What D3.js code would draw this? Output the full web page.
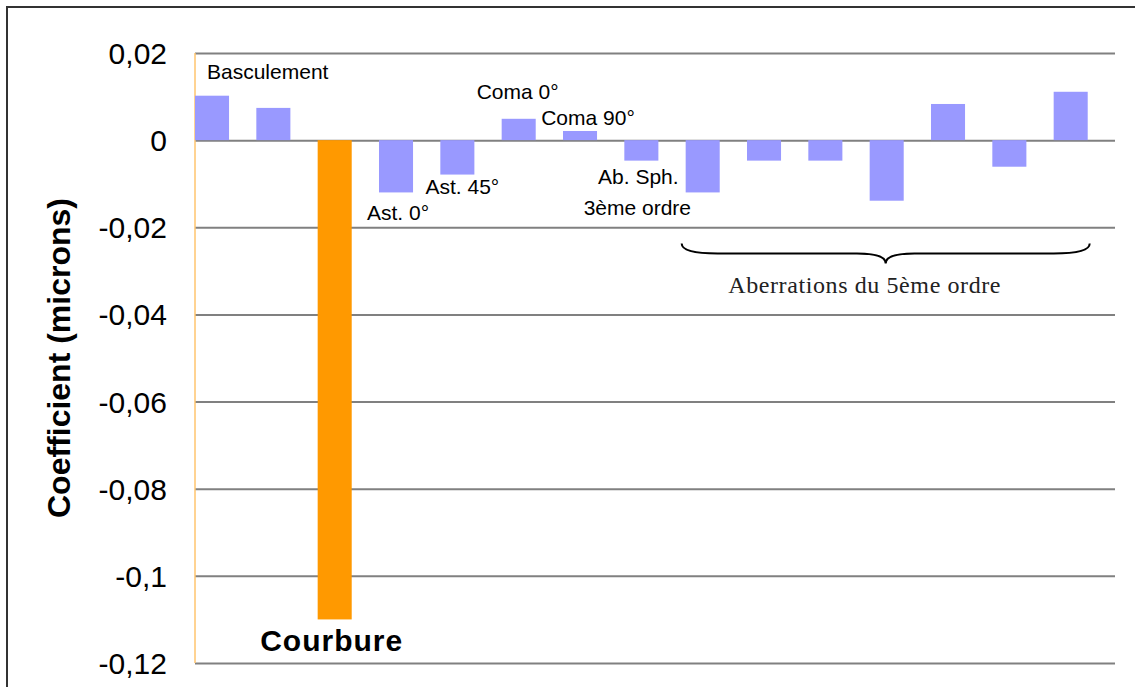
<!DOCTYPE html>
<html>
<head>
<meta charset="utf-8">
<script src="https://cdn.jsdelivr.net/npm/d3@7"></script>
<style>
  html, body { margin: 0; padding: 0; background: #fff; }
  svg { display: block; }
</style>
</head>
<body>
<svg id="chart" width="1135" height="687"></svg>
<script>
// ---- data ----
const categories = ["Basculement X", "Basculement Y", "Courbure", "Ast. 0°", "Ast. 45°",
  "Coma 0°", "Coma 90°", "Ab. Sph. 3ème ordre", "5e-1", "5e-2", "5e-3", "5e-4", "5e-5", "5e-6", "5e-7"];
const values = [0.0102, 0.0074, -0.110, -0.0120, -0.0079, 0.0049, 0.0021, -0.0047,
  -0.0120, -0.0047, -0.0047, -0.0139, 0.0083, -0.0061, 0.0111];
const highlighted = ["Courbure"];
const tickValues = [0.02, 0, -0.02, -0.04, -0.06, -0.08, -0.1, -0.12];
const tickLabels = ["0,02", "0", "-0,02", "-0,04", "-0,06", "-0,08", "-0,1", "-0,12"];
const yTitle = "Coefficient (microns)";
// annotations: category, vertical anchor (data units), horizontal offset
const annotations = [
  { text: "Basculement", cat: "Basculement X", y: 0.01407, dx: 12, anchor: "start", bold: false },
  { text: "Courbure", cat: "Courbure", y: -0.1172, dx: -3, anchor: "middle", bold: true },
  { text: "Ast. 0°", cat: "Ast. 0°", y: -0.0183, dx: 2, anchor: "middle", bold: false },
  { text: "Ast. 45°", cat: "Ast. 45°", y: -0.0123, dx: 5, anchor: "middle", bold: false },
  { text: "Coma 0°", cat: "Coma 0°", y: 0.0094, dx: -1, anchor: "middle", bold: false },
  { text: "Coma 90°", cat: "Coma 90°", y: 0.0035, dx: 8, anchor: "middle", bold: false },
  { text: "Ab. Sph.", cat: "Ab. Sph. 3ème ordre", y: -0.0100, dx: -3, anchor: "middle", bold: false },
  { text: "3ème ordre", cat: "Ab. Sph. 3ème ordre", y: -0.0171, dx: -4, anchor: "middle", bold: false }
];
const braceGroup = { from: "5e-1", to: "5e-7", yTop: -0.0237, label: "Aberrations du 5ème ordre", labelY: -0.0350 };

// ---- layout ----
const svg = d3.select("#chart");
const plot = { left: 195, right: 1115, top: 53, bottom: 663 };
const sans = "'Liberation Sans', Arial, sans-serif";

const x = d3.scaleBand().domain(categories).range([plot.left, plot.right])
  .paddingInner(0.445).paddingOuter(0.2225).align(0);
const y = d3.scaleLinear().domain([-0.12, 0.02]).range([plot.bottom, plot.top]);

// outer frame
svg.append("rect").attr("x", 7).attr("y", 7).attr("width", 1140).attr("height", 700)
  .attr("fill", "none").attr("stroke", "#333").attr("stroke-width", 2);

// gridlines
const yAxis = d3.axisLeft(y).tickValues(tickValues).tickSize(-(plot.right - plot.left))
  .tickFormat((d, i) => tickLabels[i]);
const gy = svg.append("g").attr("transform", `translate(${plot.left},0)`).call(yAxis);
gy.select(".domain").remove();
gy.selectAll(".tick line").attr("stroke", "#808080").attr("stroke-width", 2);
gy.selectAll(".tick text").attr("x", -28).attr("dy", "0.35em")
  .style("font-family", sans).style("font-size", "30px").attr("fill", "#000");

// axis line
svg.append("line").attr("x1", plot.left).attr("x2", plot.left)
  .attr("y1", y(0.02)).attr("y2", y(-0.12))
  .attr("stroke", "#FFC46E").attr("stroke-width", 1.5);

// bars
svg.append("g").selectAll("rect").data(categories).join("rect")
  .attr("x", d => x(d))
  .attr("width", x.bandwidth())
  .attr("y", (d, i) => y(Math.max(0, values[i])))
  .attr("height", (d, i) => Math.abs(y(values[i]) - y(0)))
  .attr("fill", d => highlighted.includes(d) ? "#FF9900" : "#9999FF");

// y title
svg.append("text").attr("transform", `translate(70,358) rotate(-90)`)
  .attr("text-anchor", "middle").style("font-family", sans).style("font-weight", "bold")
  .style("font-size", "32px").attr("fill", "#000").text(yTitle);

// annotations
svg.append("g").selectAll("text").data(annotations).join("text")
  .attr("x", d => x(d.cat) + (d.anchor === "middle" ? x.bandwidth() / 2 : 0) + d.dx)
  .attr("y", d => y(d.y))
  .attr("text-anchor", d => d.anchor)
  .style("font-family", sans)
  .style("font-weight", d => d.bold ? "bold" : "normal")
  .style("font-size", d => d.bold ? "30px" : "21px")
  .style("letter-spacing", d => d.bold ? "1px" : "0px")
  .attr("fill", "#000")
  .text(d => d.text);

// brace
const bx1 = x(braceGroup.from) - 4, bx2 = x(braceGroup.to) + x.bandwidth() + 2;
const by0 = y(braceGroup.yTop), bym = by0 + 10, byt = by0 + 20;
const bxc = (bx1 + bx2) / 2, r = 36;
const p = d3.path();
p.moveTo(bx1, by0);
p.quadraticCurveTo(bx1, bym, bx1 + r, bym);
p.lineTo(bxc - r * 0.8, bym);
p.quadraticCurveTo(bxc, bym, bxc, byt);
p.quadraticCurveTo(bxc, bym, bxc + r * 0.8, bym);
p.lineTo(bx2 - r, bym);
p.quadraticCurveTo(bx2, bym, bx2, by0);
svg.append("path").attr("d", p.toString()).attr("fill", "none")
  .attr("stroke", "#000").attr("stroke-width", 2);

svg.append("text").attr("x", bxc - 21).attr("y", y(braceGroup.labelY))
  .attr("text-anchor", "middle").style("font-family", "'Liberation Serif', 'Times New Roman', serif")
  .style("font-size", "24px").style("letter-spacing", "0.6px").attr("fill", "#222")
  .text(braceGroup.label);
</script>
</body>
</html>
